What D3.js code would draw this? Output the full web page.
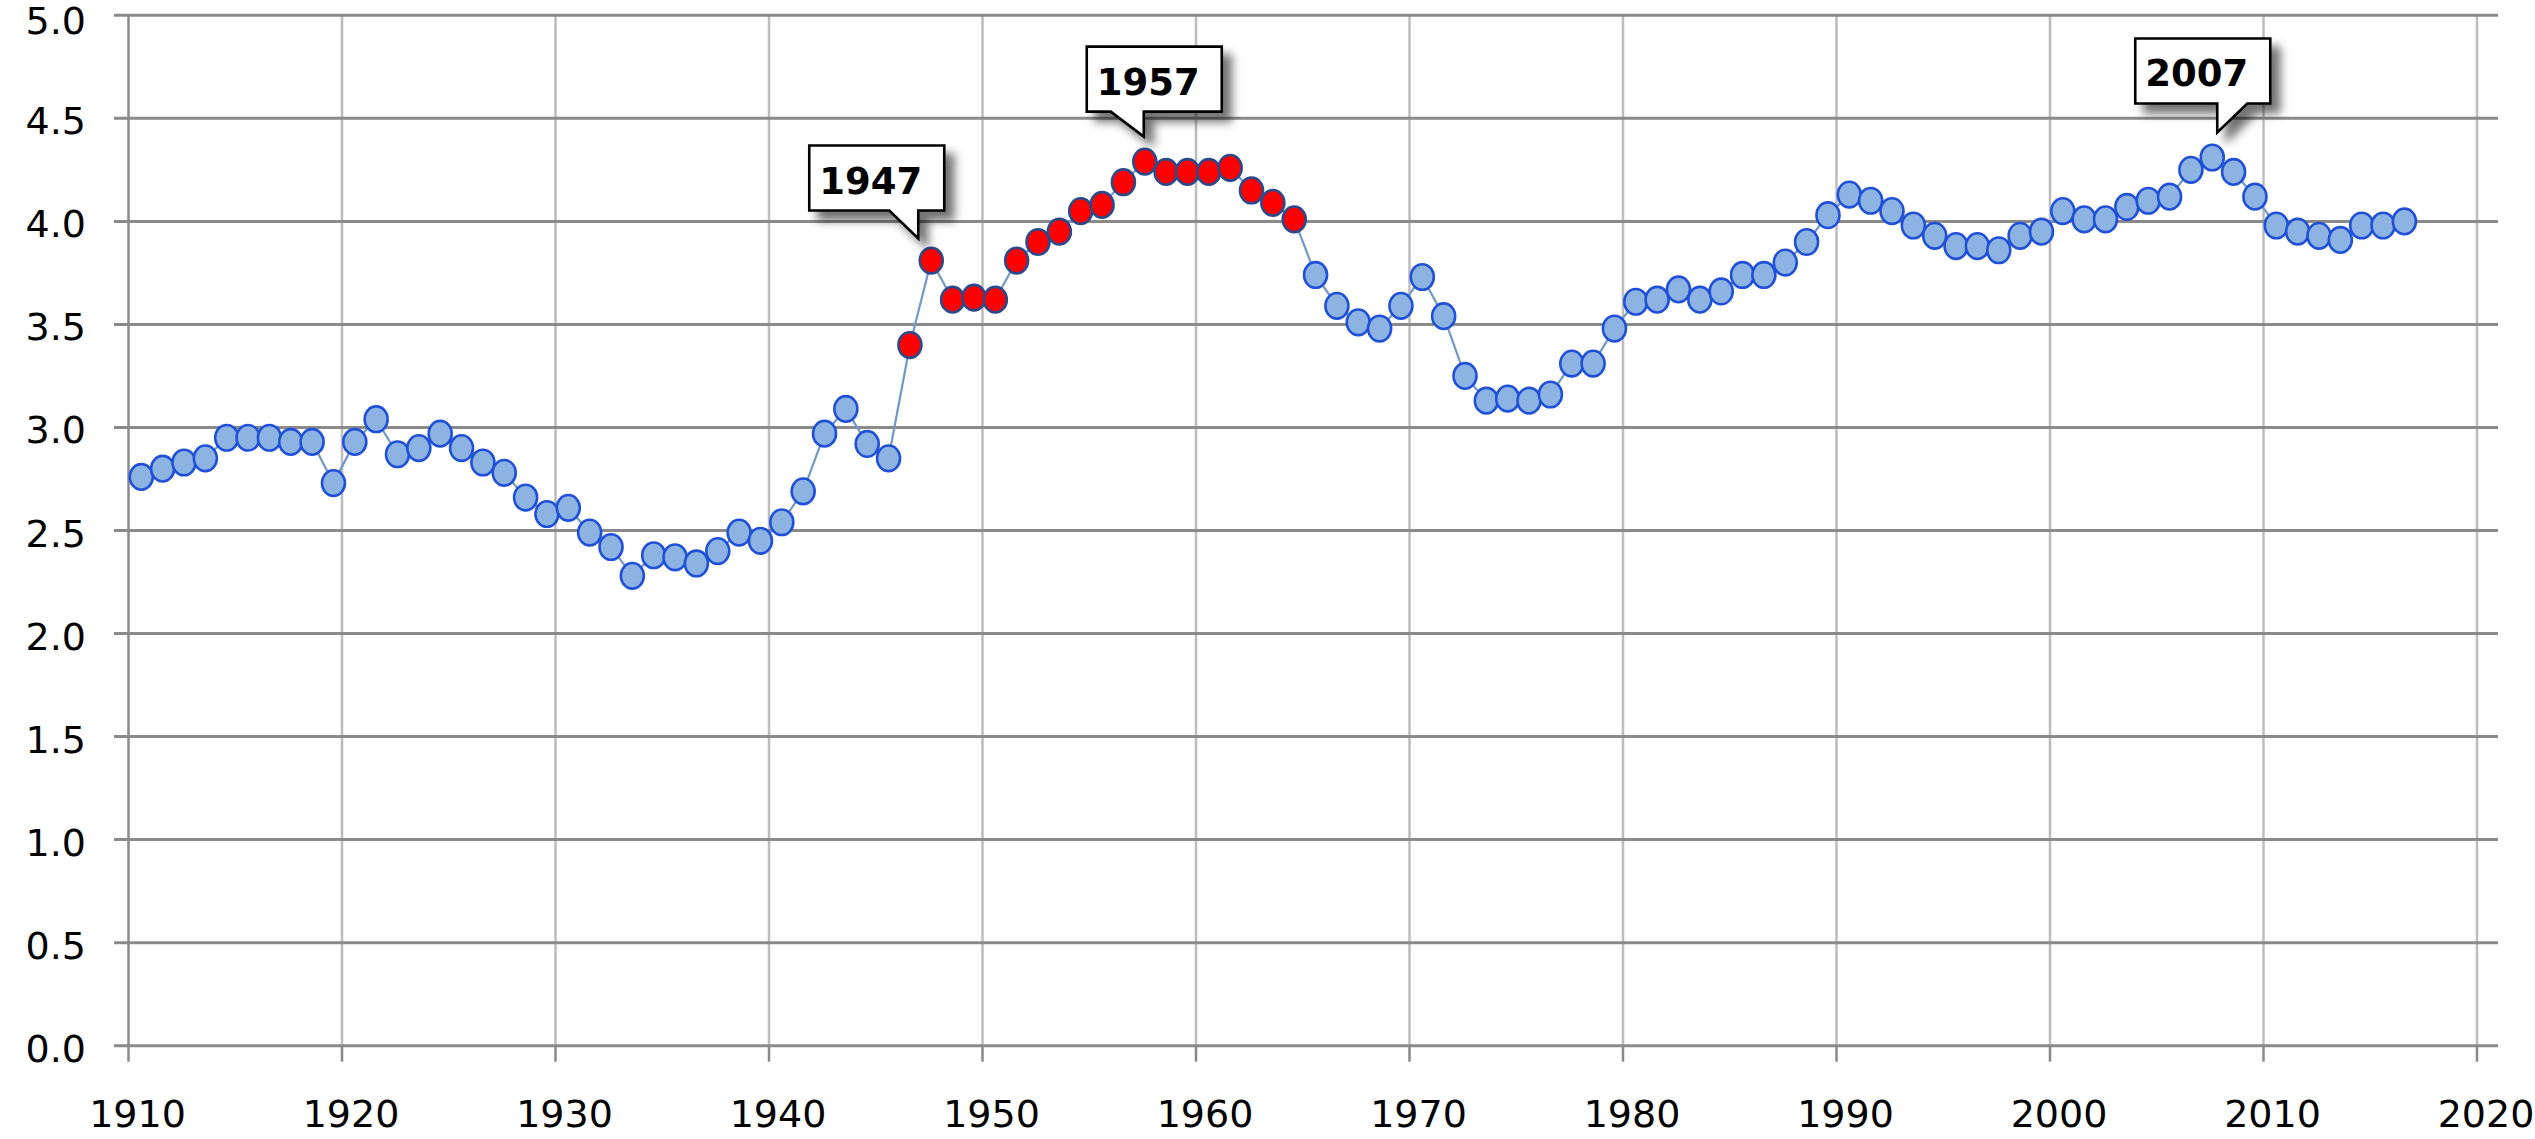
<!DOCTYPE html>
<html>
<head>
<meta charset="utf-8">
<script src="https://cdn.jsdelivr.net/npm/d3@7"></script>
<style>
    html, body { margin: 0; padding: 0; background: #fff; }
    svg { display: block; }
</style>
</head>
<body>
<svg id="canvas" width="2535" height="1139"></svg>
<script>
const START_YEAR = 1910;
const VALUES = [
    2.76, 2.80, 2.83, 2.85, 2.95, 2.95, 2.95, 2.93, 2.93, 2.73,
    2.93, 3.04, 2.87, 2.90, 2.97, 2.90, 2.83, 2.78, 2.66, 2.58,
    2.61, 2.49, 2.42, 2.28, 2.38, 2.37, 2.34, 2.40, 2.49, 2.45,
    2.54, 2.69, 2.97, 3.09, 2.92, 2.85, 3.40, 3.81, 3.62, 3.63,
    3.62, 3.81, 3.90, 3.95, 4.05, 4.08, 4.19, 4.29, 4.24, 4.24,
    4.24, 4.26, 4.15, 4.09, 4.01, 3.74, 3.59, 3.51, 3.48, 3.59,
    3.73, 3.54, 3.25, 3.13, 3.14, 3.13, 3.16, 3.31, 3.31, 3.48,
    3.61, 3.62, 3.67, 3.62, 3.66, 3.74, 3.74, 3.80, 3.90, 4.03,
    4.13, 4.10, 4.05, 3.98, 3.93, 3.88, 3.88, 3.86, 3.93, 3.95,
    4.05, 4.01, 4.01, 4.07, 4.10, 4.12, 4.25, 4.31, 4.24, 4.12,
    3.98, 3.95, 3.93, 3.91, 3.98, 3.98, 4.00
];
const YEARS = VALUES.map((v, i) => START_YEAR + i);
const HIGHLIGHT = [1946, 1964];          // red run, inclusive
const CALLOUTS = [1947, 1957, 2007];
const X_TICKS = [1910, 1920, 1930, 1940, 1950, 1960, 1970, 1980, 1990, 2000, 2010, 2020];
const Y_TICKS = [0, 0.5, 1, 1.5, 2, 2.5, 3, 3.5, 4, 4.5, 5];

const DATA = YEARS.map((year, i) => ({ year: year, value: VALUES[i] }));

const svg = d3.select("#canvas");

const scaleX = d3.scaleLinear()
    .domain([1910, 2020])
    .range([128.5, 2477]);

const scaleY = d3.scaleLinear()
    .domain([0, 5])
    .range([1045.7, 15.3]);

// points sit in the middle of their year
const px = d => scaleX(d.year + 0.6);
const py = d => scaleY(d.value);

const defs = svg.append("defs");
defs.append("filter")
    .attr("id", "shadow")
    .attr("x", "-20%").attr("y", "-20%")
    .attr("width", "150%").attr("height", "160%")
    .append("feDropShadow")
    .attr("dx", 9).attr("dy", 9)
    .attr("stdDeviation", 5)
    .attr("flood-color", "#000")
    .attr("flood-opacity", 0.55);

// vertical grid
svg.append("g")
    .selectAll("line")
    .data(X_TICKS.slice(1))
    .enter()
    .append("line")
    .attr("x1", d => scaleX(d)).attr("x2", d => scaleX(d))
    .attr("y1", scaleY(5)).attr("y2", scaleY(0))
    .attr("stroke", "#bdbdbd")
    .attr("stroke-width", 2.5);

// horizontal grid
svg.append("g")
    .selectAll("line")
    .data(Y_TICKS)
    .enter()
    .append("line")
    .attr("x1", 114).attr("x2", 2498)
    .attr("y1", d => scaleY(d)).attr("y2", d => scaleY(d))
    .attr("stroke", "#8a8a8a")
    .attr("stroke-width", 3);

// y axis line + x tick marks
svg.append("line")
    .attr("x1", scaleX(1910)).attr("x2", scaleX(1910))
    .attr("y1", scaleY(5)).attr("y2", scaleY(0) + 16)
    .attr("stroke", "#8a8a8a")
    .attr("stroke-width", 2.5);

svg.append("g")
    .selectAll("line")
    .data(X_TICKS.slice(1))
    .enter()
    .append("line")
    .attr("x1", d => scaleX(d)).attr("x2", d => scaleX(d))
    .attr("y1", scaleY(0)).attr("y2", scaleY(0) + 16)
    .attr("stroke", "#8a8a8a")
    .attr("stroke-width", 2.5);

// axis labels
svg.append("g")
    .selectAll("text")
    .data(Y_TICKS)
    .enter()
    .append("text")
    .attr("x", 86)
    .attr("y", d => scaleY(d) + (d === 5 ? 19 : 16))
    .attr("text-anchor", "end")
    .attr("font-family", "DejaVu Sans")
    .attr("font-size", 38)
    .attr("fill", "#000")
    .text(d => d3.format(".1f")(d));

svg.append("g")
    .selectAll("text")
    .data(X_TICKS)
    .enter()
    .append("text")
    .attr("x", d => scaleX(d) + 9)
    .attr("y", 1127)
    .attr("text-anchor", "middle")
    .attr("font-family", "DejaVu Sans")
    .attr("font-size", 38)
    .attr("fill", "#000")
    .text(d => d);

// series line
const line = d3.line()
    .x(px)
    .y(py);

svg.append("path")
    .datum(DATA)
    .attr("d", line)
    .attr("fill", "none")
    .attr("stroke", "#7098c8")
    .attr("stroke-width", 2.2);

// markers
const isRed = d => d.year >= HIGHLIGHT[0] && d.year <= HIGHLIGHT[1];

svg.append("g")
    .selectAll("ellipse")
    .data(DATA)
    .enter()
    .append("ellipse")
    .attr("cx", px)
    .attr("cy", py)
    .attr("rx", 11.5)
    .attr("ry", 12.8)
    .attr("fill", d => isRed(d) ? "#ff0000" : "#8db3e2")
    .attr("stroke", d => isRed(d) ? "#2b4a8c" : "#1f50d8")
    .attr("stroke-width", 2.6);

// callouts: box offsets relative to the point, pointer on left or right
const BOX_W = 135;
const BOX_H = 65;
const CALLOUT_LAYOUT = {
    1947: { left: -122, top: -115, baseA: -42, tip: -13, tipY: -22 },
    1957: { left: -58, top: -115, baseA: -34, tip: -1, tipY: -25 },
    2007: { left: -77, top: -119, baseA: 35, tip: 5, tipY: -25 }
};

CALLOUTS.forEach(year => {
    const d = DATA.find(p => p.year === year);
    const lay = CALLOUT_LAYOUT[year];
    const x0 = px(d) + lay.left;
    const y0 = py(d) + lay.top;
    const yb = y0 + BOX_H;
    const tx = px(d) + lay.tip;
    const ty = py(d) + lay.tipY;
    const bx = px(d) + lay.baseA;
    const right = Math.max(bx, tx);

    const path = d3.path();
    path.moveTo(x0, y0);
    path.lineTo(x0 + BOX_W, y0);
    path.lineTo(x0 + BOX_W, yb);
    path.lineTo(right, yb);
    if (bx > tx) {
        path.lineTo(tx, ty);
        path.lineTo(tx, yb);
    } else {
        path.lineTo(tx, ty);
        path.lineTo(bx, yb);
    }
    path.lineTo(x0, yb);
    path.closePath();

    const g = svg.append("g");
    g.append("path")
        .attr("d", path.toString())
        .attr("fill", "#fff")
        .attr("stroke", "#000")
        .attr("stroke-width", 2.6)
        .attr("stroke-linejoin", "miter")
        .attr("filter", "url(#shadow)");
    g.append("text")
        .attr("x", x0 + 10)
        .attr("y", y0 + 48)
        .attr("font-family", "DejaVu Sans")
        .attr("font-weight", "bold")
        .attr("font-size", 37)
        .attr("fill", "#000")
        .text(year);
});
</script>
</body>
</html>
